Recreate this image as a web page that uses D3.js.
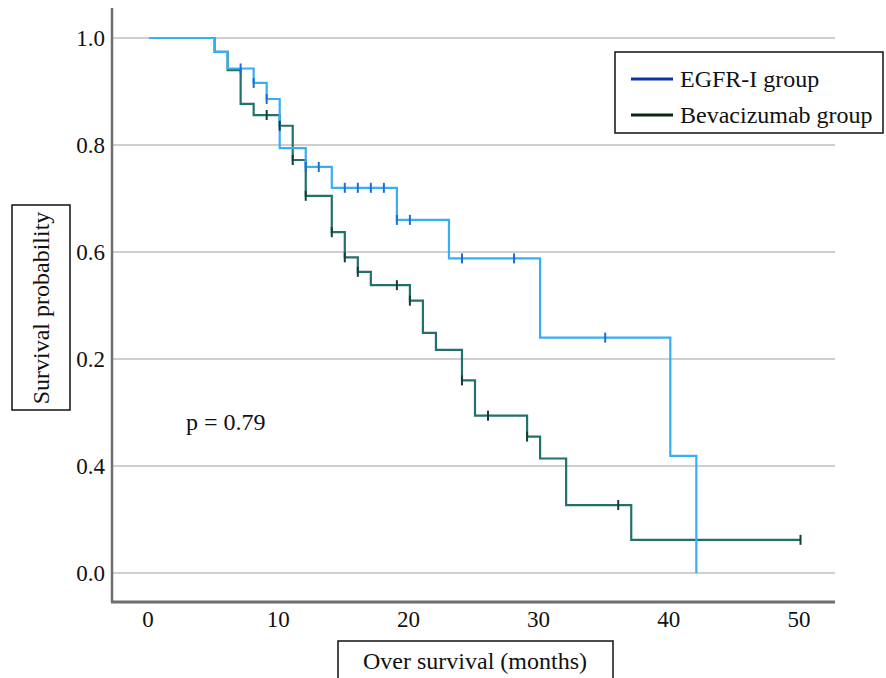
<!DOCTYPE html>
<html>
<head>
<meta charset="utf-8">
<script src="https://cdn.jsdelivr.net/npm/d3@7"></script>
<style>
  body { margin: 0; background: #fff; }
  svg { display: block; font-family: "Liberation Serif", "Times New Roman", serif; }
</style>
</head>
<body>
<svg id="chart"></svg>
<script>
// tick values and the labels printed next to them (as in the figure)
const yTicks = [0, 0.2, 0.4, 0.6, 0.8, 1.0];
const yTickLabels = ["0.0", "0.4", "0.2", "0.6", "0.8", "1.0"];
const xTicks = [0, 10, 20, 30, 40, 50];

// EGFR-I group: step times (months) and survival after the step
const egfrTimes = [0, 5, 6, 8, 9, 10, 12, 14, 19, 23, 30, 40, 42];
const egfrSurv = [1.0, 0.974, 0.943, 0.916, 0.886, 0.794, 0.759, 0.72, 0.66, 0.588, 0.44, 0.219, 0.0];
const egfrCensorT = [7, 8, 9, 12, 13, 15, 16, 17, 18, 19, 20, 24, 28, 35];

// Bevacizumab group
const bevTimes = [0, 5, 6, 7, 8, 10, 11, 12, 14, 15, 16, 17, 20, 21, 22, 24, 25, 29, 30, 32, 37];
const bevSurv = [1.0, 0.974, 0.94, 0.877, 0.856, 0.836, 0.772, 0.705, 0.637, 0.59, 0.563, 0.538, 0.509, 0.449, 0.417, 0.36, 0.294, 0.255, 0.214, 0.127, 0.062];
const bevEnd = 50;
const bevCensorT = [9, 10, 11, 12, 14, 15, 16, 19, 20, 24, 26, 29, 36, 50];

const wSvg = 886;
const hSvg = 678;
const fontSize = 24;

const svg = d3.select("#chart")
  .attr("width", wSvg)
  .attr("height", hSvg);

const x = d3.scaleLinear().domain([0, 50]).range([149.5, 800.5]);
const y = d3.scaleLinear().domain([0, 1]).range([573, 38]);

const axisLeftX = 112;
const axisBottomY = 602;
const gridRight = 835;

// gridlines
svg.append("g")
  .selectAll("line")
  .data(yTicks)
  .enter()
  .append("line")
  .attr("x1", axisLeftX)
  .attr("x2", gridRight)
  .attr("y1", d => y(d))
  .attr("y2", d => y(d))
  .attr("stroke", "#cfcfcf")
  .attr("stroke-width", 2);

// y axis
const yAxis = d3.axisLeft(y)
  .tickValues(yTicks)
  .tickSize(0)
  .tickPadding(7)
  .tickFormat((d, i) => yTickLabels[i]);

const gy = svg.append("g")
  .attr("transform", `translate(${axisLeftX}, 0)`)
  .call(yAxis);
gy.select(".domain").remove();
gy.attr("font-family", null);
gy.selectAll("text")
  .attr("font-size", 23)
  .attr("fill", "#111");

svg.append("line")
  .attr("x1", axisLeftX).attr("x2", axisLeftX)
  .attr("y1", 8).attr("y2", axisBottomY)
  .attr("stroke", "#6e6e6e")
  .attr("stroke-width", 2.5);

// x axis
const xAxis = d3.axisBottom(x)
  .tickValues(xTicks)
  .tickSize(0)
  .tickPadding(9);

const gx = svg.append("g")
  .attr("transform", `translate(-2, ${axisBottomY})`)
  .call(xAxis);
gx.select(".domain").remove();
gx.attr("font-family", null);
gx.selectAll("text")
  .attr("font-size", 23)
  .attr("fill", "#111");

svg.append("line")
  .attr("x1", axisLeftX - 1).attr("x2", gridRight)
  .attr("y1", axisBottomY).attr("y2", axisBottomY)
  .attr("stroke", "#6e6e6e")
  .attr("stroke-width", 3);

// step curves
function stepPoints(times, surv, end) {
  let pts = times.map((t, i) => [t, surv[i]]);
  if (end !== undefined) pts.push([end, surv[surv.length - 1]]);
  return pts;
}

function survAt(times, surv, t) {
  let s = surv[0];
  for (let i = 0; i < times.length; i++) {
    if (times[i] <= t) s = surv[i];
  }
  return s;
}

const line = d3.line()
  .x(d => x(d[0]))
  .y(d => y(d[1]))
  .curve(d3.curveStepAfter);

svg.append("path")
  .datum(stepPoints(bevTimes, bevSurv, bevEnd))
  .attr("d", line)
  .attr("fill", "none")
  .attr("stroke", "#24706a")
  .attr("stroke-width", 2.2);

svg.append("path")
  .datum(stepPoints(egfrTimes, egfrSurv))
  .attr("d", line)
  .attr("fill", "none")
  .attr("stroke", "#38aef5")
  .attr("stroke-width", 2.2);

// censor marks
function drawCensors(ts, times, surv, color) {
  svg.append("g")
    .selectAll("line")
    .data(ts)
    .enter()
    .append("line")
    .attr("x1", d => x(d))
    .attr("x2", d => x(d))
    .attr("y1", d => y(survAt(times, surv, d)) - 5)
    .attr("y2", d => y(survAt(times, surv, d)) + 5)
    .attr("stroke", color)
    .attr("stroke-width", 2);
}
drawCensors(bevCensorT, bevTimes, bevSurv, "#123f36");
drawCensors(egfrCensorT, egfrTimes, egfrSurv, "#1a6ed8");

// p value
svg.append("text")
  .attr("x", 186)
  .attr("y", 430)
  .attr("font-size", fontSize)
  .attr("fill", "#111")
  .text("p = 0.79");

// legend
const legend = svg.append("g");
legend.append("rect")
  .attr("x", 615).attr("y", 52)
  .attr("width", 268).attr("height", 81)
  .attr("fill", "#fff")
  .attr("stroke", "#111")
  .attr("stroke-width", 1.5);

const legendItems = [
  { name: "EGFR-I group", color: "#0b35a8" },
  { name: "Bevacizumab group", color: "#0b2812" }
];
legendItems.forEach((d, i) => {
  const ly = 79 + i * 36;
  legend.append("line")
    .attr("x1", 631).attr("x2", 673)
    .attr("y1", ly).attr("y2", ly)
    .attr("stroke", d.color)
    .attr("stroke-width", 3);
  legend.append("text")
    .attr("x", 680).attr("y", ly + 8)
    .attr("font-size", fontSize)
    .attr("fill", "#111")
    .text(d.name);
});

// y title box
svg.append("rect")
  .attr("x", 12).attr("y", 205)
  .attr("width", 58).attr("height", 205)
  .attr("fill", "#fff")
  .attr("stroke", "#111")
  .attr("stroke-width", 1.5);
svg.append("text")
  .attr("transform", "translate(49, 308) rotate(-90)")
  .attr("text-anchor", "middle")
  .attr("font-size", fontSize)
  .attr("fill", "#111")
  .text("Survival probability");

// x title box
svg.append("rect")
  .attr("x", 338).attr("y", 641)
  .attr("width", 275).attr("height", 45)
  .attr("fill", "#fff")
  .attr("stroke", "#111")
  .attr("stroke-width", 1.5);
svg.append("text")
  .attr("x", 475).attr("y", 669)
  .attr("text-anchor", "middle")
  .attr("font-size", fontSize)
  .attr("fill", "#111")
  .text("Over survival (months)");
</script>
</body>
</html>
